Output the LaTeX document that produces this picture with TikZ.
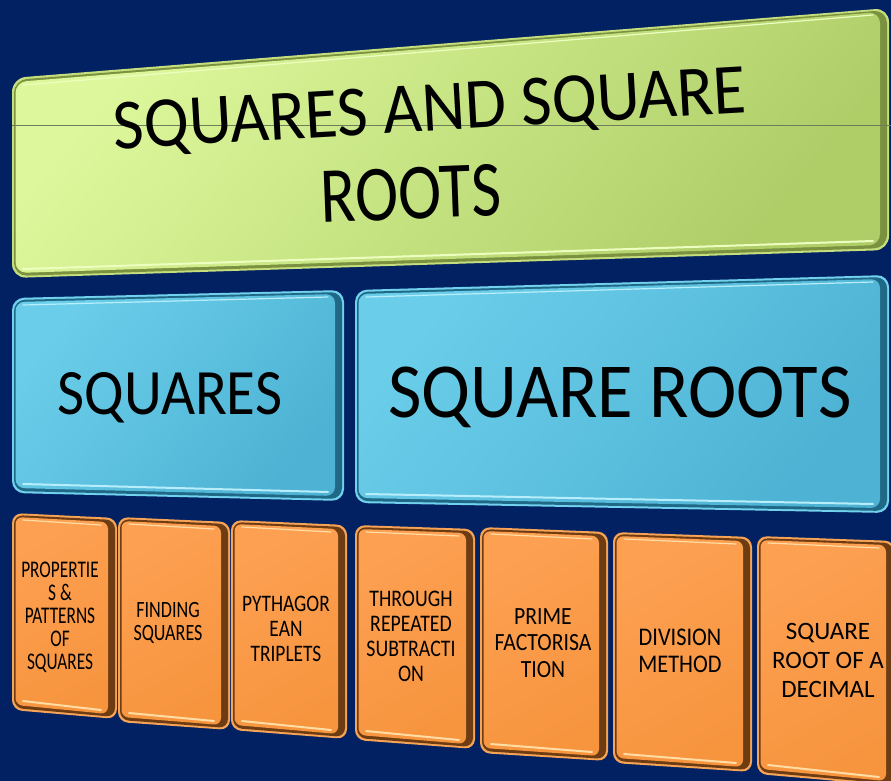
\documentclass[tikz,border=0pt]{standalone}
\usepackage{fontspec}
\setmainfont{Carlito}
\usetikzlibrary{calc}
\definecolor{bgnavy}{HTML}{012162}
% green
\definecolor{grim}{HTML}{C6DF7C}
\definecolor{gdark}{HTML}{7A9140}
\definecolor{gfaceA}{HTML}{DDF89C}
\definecolor{gfaceB}{HTML}{AFCE68}
\definecolor{ghi}{HTML}{EDFFC0}
% blue
\definecolor{brim}{HTML}{72D2EE}
\definecolor{bdark}{HTML}{1F6886}
\definecolor{bfaceA}{HTML}{6ACEEA}
\definecolor{bfaceB}{HTML}{4EB2D4}
\definecolor{bhi}{HTML}{B8EEFB}
% orange
\definecolor{orim}{HTML}{F7A456}
\definecolor{odark}{HTML}{6E3C12}
\definecolor{ofaceA}{HTML}{FDA052}
\definecolor{ofaceB}{HTML}{F7953F}
\definecolor{ohi}{HTML}{FFDDA4}
\definecolor{seam}{HTML}{6E7E5C}
\tikzset{
  grimst/.style={fill=grim, rounded corners=14pt},
  gdarkst/.style={fill=gdark, rounded corners=13pt},
  gfacest/.style={top color=gfaceA, bottom color=gfaceB, shading angle=50, rounded corners=11pt},
  ghist/.style={draw=ghi, line width=2pt, line cap=round},
  brimst/.style={fill=brim, rounded corners=12pt},
  bdarkst/.style={fill=bdark, rounded corners=11pt},
  bfacest/.style={top color=bfaceA, bottom color=bfaceB, shading angle=50, rounded corners=9pt},
  bhist/.style={draw=bhi, line width=2pt, line cap=round},
  orimst/.style={fill=orim, rounded corners=10pt},
  odarkst/.style={fill=odark, rounded corners=9pt},
  ofacest/.style={top color=ofaceA, bottom color=ofaceB, shading angle=30, rounded corners=7pt},
  ohist/.style={draw=ohi, line width=2pt, line cap=round},
  lbl/.style={text=black, align=center, inner sep=0pt, transform shape},
}
% #1 style prefix, #2 TL, #3 TR, #4 BR, #5 BL
\newcommand\bevbox[5]{%
  \fill[#1rimst] (#2) -- (#3) -- (#4) -- (#5) -- cycle;
  \fill[#1darkst] ($(#2)+(2,2)$) -- ($(#3)+(-2,2)$) -- ($(#4)+(-2,-2)$) -- ($(#5)+(2,-2)$) -- cycle;
  \path[#1facest] ($(#2)+(3.5,4)$) -- ($(#3)+(-9,4)$) -- ($(#4)+(-9,-5)$) -- ($(#5)+(3.5,-5)$) -- cycle;
  \draw[#1hist] ($(#5)+(11,-9)$) -- ($(#4)+(-16,-9)$);
  \draw[#1hist, line width=1.2pt] ($(#2)+(11,7)$) -- ($(#3)+(-16,7)$);
}
\begin{document}
\begin{tikzpicture}[x=1pt,y=-1pt]
\useasboundingbox (0,0) rectangle (891,781);
\fill[bgnavy] (0,0) rectangle (891,781);

% title box
\bevbox{g}{12,78}{889,8}{889,250}{12,278}
\draw[seam, line width=0.9pt] (12,125) -- (891,125);
\node[lbl, anchor=base, rotate=3.3, yscale=1.07, font=\fontsize{67}{70}\selectfont] (title1) at (431,131) {SQUARES AND SQUARE};
\node[lbl, anchor=base, rotate=2.2, yscale=1.22, font=\fontsize{65}{70}\selectfont] (title2) at (412,219) {ROOTS};

% blue boxes
\bevbox{b}{12,298}{344,290}{344,501}{12,493}
\bevbox{b}{355,290}{889,275}{889,513}{355,503}
\node[lbl, anchor=base, yscale=1.1, font=\fontsize{58.8}{60}\selectfont] (squares) at (170,414) {SQUARES};
\node[lbl, anchor=base, yscale=1.07, font=\fontsize{72.8}{75}\selectfont] (roots) at (620,417) {SQUARE ROOTS};

% orange boxes
\bevbox{o}{12,513}{117,518}{117,719}{12,710}
\bevbox{o}{118,517}{230,522}{230,730}{118,722}
\bevbox{o}{231,520}{347,525}{347,739}{231,730}
\bevbox{o}{355,525}{475,529}{475,749}{355,740}
\bevbox{o}{480,527}{608,532}{608,761}{480,753}
\bevbox{o}{613,532}{752,537}{752,772}{613,763}
\bevbox{o}{757,536}{895,541}{895,786}{757,774}

\node[lbl, yscale=1.38, font=\fontsize{17.3}{16.7}\selectfont] (o1) at (60,617) {PROPERTIE\\S \&\\PATTERNS\\OF\\SQUARES};
\node[lbl, yscale=1.29, font=\fontsize{18.1}{18}\selectfont] (o2) at (168,623) {FINDING\\SQUARES};
\node[lbl, yscale=1.22, font=\fontsize{19.4}{20.5}\selectfont] (o3) at (286,629) {PYTHAGOR\\EAN\\TRIPLETS};
\node[lbl, yscale=1.2, font=\fontsize{19.8}{20.8}\selectfont] (o4) at (411,636) {THROUGH\\REPEATED\\SUBTRACTI\\ON};
\node[lbl, yscale=1.14, font=\fontsize{21.7}{23}\selectfont] (o5) at (543,643) {PRIME\\FACTORISA\\TION};
\node[lbl, yscale=1.14, font=\fontsize{22.3}{23.5}\selectfont] (o6) at (680,651) {DIVISION\\METHOD};
\node[lbl, yscale=1.0, font=\fontsize{25}{29}\selectfont] (o7) at (828,660) {SQUARE\\ROOT OF A\\DECIMAL};
\end{tikzpicture}
\end{document}
